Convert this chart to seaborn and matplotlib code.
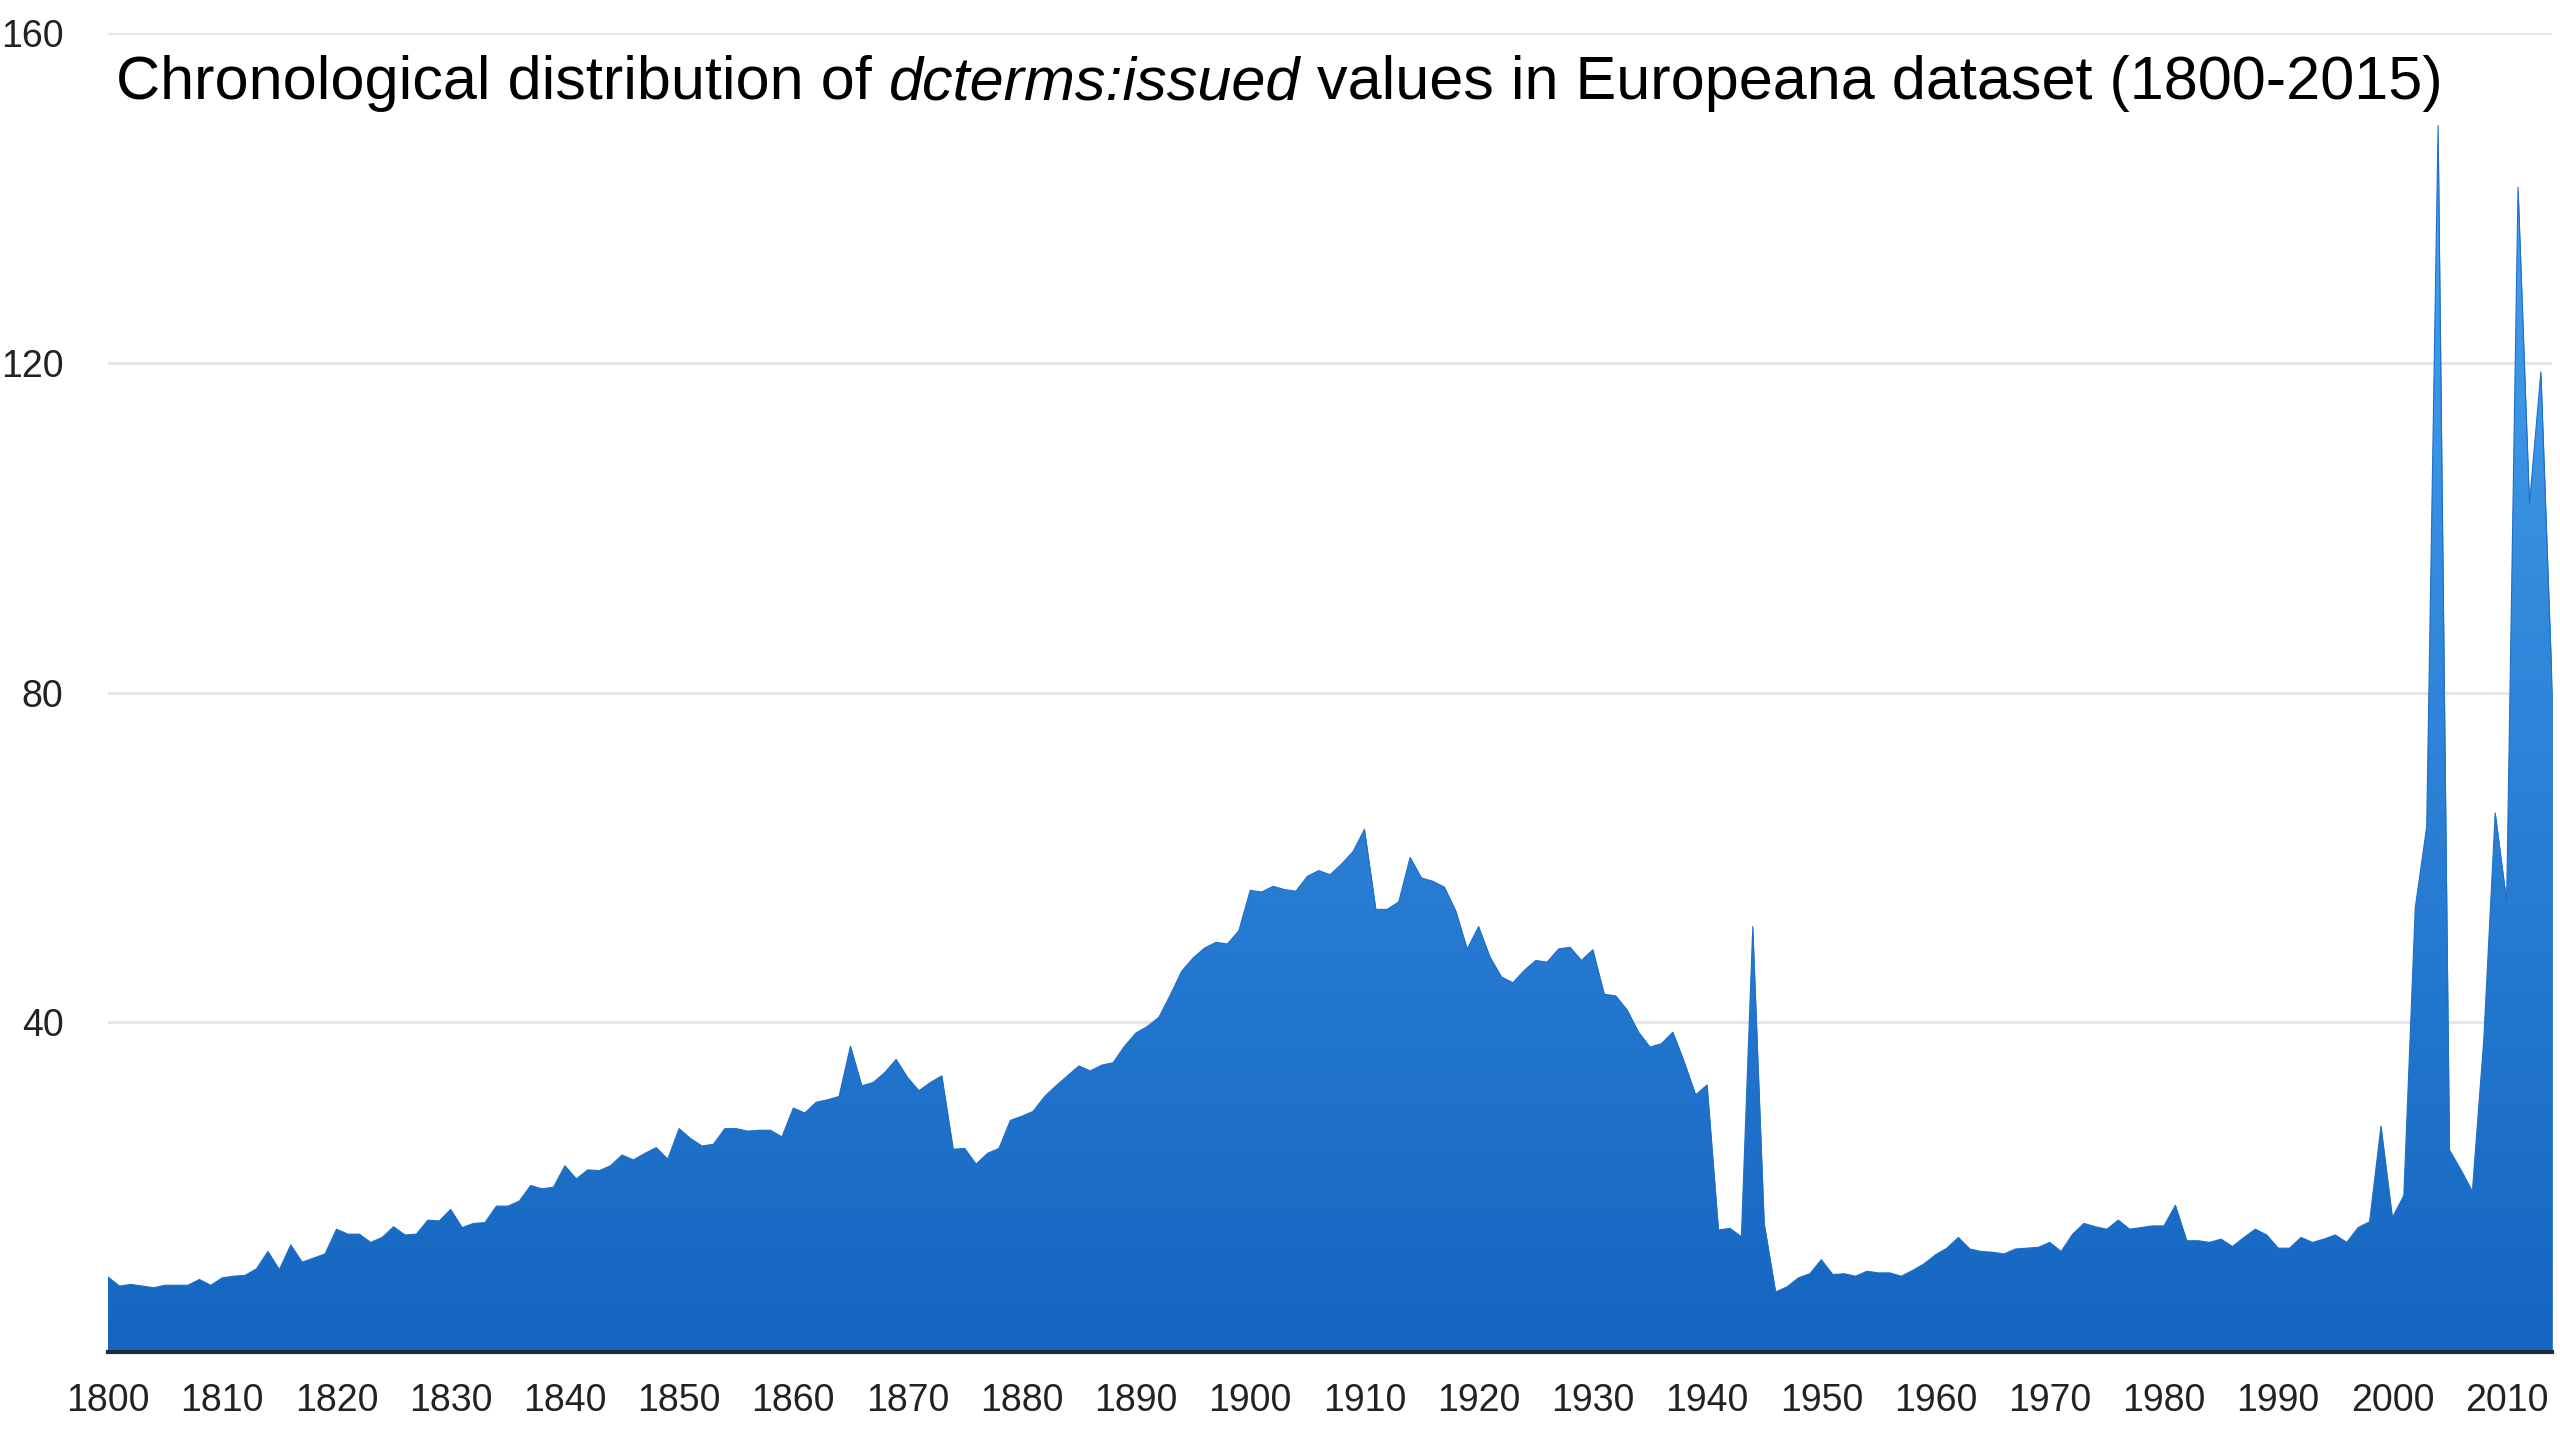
import numpy as np
import pandas as pd
import matplotlib
matplotlib.use("Agg")
import matplotlib.pyplot as plt
import seaborn as sns
from matplotlib.colors import LinearSegmentedColormap

sns.set_style("white")
plt.rcParams['font.family'] = ['Liberation Sans', 'DejaVu Sans']

# ---------------- DATA ----------------
years = list(range(1800, 2015))
counts = [
    9.1, 8.0, 8.2, 8.0, 7.8, 8.1, 8.1, 8.1, 8.8, 8.1,            # 1800s
    9.0, 9.2, 9.3, 10.1, 12.2, 10.0, 13.0, 10.9, 11.4, 11.9,     # 1810s
    14.9, 14.3, 14.3, 13.3, 13.9, 15.2, 14.2, 14.3, 16.0, 15.9,  # 1820s
    17.3, 15.1, 15.6, 15.7, 17.7, 17.7, 18.3, 20.2, 19.8, 20.0,  # 1830s
    22.6, 21.0, 22.1, 22.0, 22.6, 23.9, 23.3, 24.1, 24.8, 23.4,  # 1840s
    27.1, 25.9, 25.0, 25.2, 27.1, 27.1, 26.8, 26.9, 26.9, 26.1,  # 1850s
    29.6, 29.0, 30.3, 30.6, 31.0, 37.1, 32.3, 32.7, 33.9, 35.5,  # 1860s
    33.3, 31.7, 32.7, 33.5, 24.6, 24.7, 22.8, 24.1, 24.7, 28.1,  # 1870s
    28.6, 29.2, 31.0, 32.3, 33.5, 34.7, 34.1, 34.8, 35.1, 37.1,  # 1880s
    38.7, 39.5, 40.6, 43.3, 46.2, 47.8, 49.0, 49.7, 49.5, 51.1,  # 1890s
    56.0, 55.8, 56.5, 56.1, 55.9, 57.7, 58.4, 57.9, 59.2, 60.7,  # 1900s
    63.4, 53.7, 53.7, 54.6, 60.0, 57.5, 57.1, 56.4, 53.5, 48.9,  # 1910s
    51.6, 47.9, 45.5, 44.8, 46.3, 47.5, 47.3, 48.9, 49.1, 47.5,  # 1920s
    48.8, 43.4, 43.2, 41.5, 38.8, 37.0, 37.4, 38.8, 35.2, 31.2,  # 1930s
    32.4, 14.8, 15.0, 14.0, 51.6, 15.6, 7.3, 7.9, 9.0, 9.5,      # 1940s
    11.2, 9.4, 9.5, 9.2, 9.8, 9.6, 9.6, 9.2, 9.9, 10.7,          # 1950s
    11.8, 12.6, 13.9, 12.5, 12.2, 12.1, 11.9, 12.5, 12.6, 12.7,  # 1960s
    13.3, 12.2, 14.3, 15.6, 15.2, 14.9, 16.0, 14.9, 15.1, 15.3,  # 1970s
    15.3, 17.8, 13.5, 13.5, 13.3, 13.7, 12.8, 13.9, 14.9, 14.2,  # 1980s
    12.6, 12.6, 13.9, 13.3, 13.7, 14.2, 13.3, 15.1, 15.8, 27.4,  # 1990s
    16.3, 19.0, 53.9, 63.7, 148.8, 24.5, 22.1, 19.5, 37.9, 65.4, # 2000s
    54.7, 141.3, 102.9, 118.9, 80.0,                             # 2010s
]
yticks = [40, 80, 120, 160]
xticks = list(range(1800, 2011, 10))
title_parts = ["Chronological distribution of ", "dcterms:issued",
               " values in Europeana dataset (1800-2015)"]

df = pd.DataFrame({'year': years, 'count': counts})

# ---------------- PLOT ----------------
fig = plt.figure(figsize=(25.6, 14.4), dpi=100)
ax = fig.add_axes([0.0422, 0.0611, 0.9548, 0.9159])

sns.lineplot(data=df, x='year', y='count', ax=ax, color='#1f6fc8', lw=0.8, zorder=4)
fill = ax.fill_between(df['year'], df['count'], 0, color='#1565c0', lw=0, zorder=2)

# vertical gradient clipped to the area
cmap = LinearSegmentedColormap.from_list('blues_grad', ['#1565c0', '#4aa7f3'])
grad = np.linspace(0, 1, 256).reshape(-1, 1)
im = ax.imshow(grad, cmap=cmap, origin='lower', aspect='auto',
               extent=[years[0], years[-1], 0, 160], zorder=3)
im.set_clip_path(fill.get_paths()[0], transform=ax.transData)

ax.set_xlim(years[0], years[-1])
ax.set_ylim(0, 160)
ax.set_xticks(xticks)
ax.set_yticks(yticks)
ax.set_xlabel("")
ax.set_ylabel("")
ax.grid(axis='y', color='#e6e6e6', lw=2.2, zorder=0)
ax.set_axisbelow(True)
for s in ['top', 'right', 'left']:
    ax.spines[s].set_visible(False)
ax.spines['bottom'].set_color('#1e2b3a')
ax.spines['bottom'].set_linewidth(3)
ax.spines['bottom'].set_zorder(5)
ax.tick_params(axis='y', length=0, pad=32, labelsize=27, labelcolor='#222222')
ax.tick_params(axis='x', length=0, pad=22, labelsize=27, labelcolor='#222222')

# title with italic middle part
t1 = ax.text(0.0453, 0.942, title_parts[0], transform=fig.transFigure,
             fontsize=44, va='center', ha='left', color='black', zorder=6)
t2 = ax.annotate(title_parts[1], xy=(1, 0), xycoords=t1, va='bottom', ha='left',
                 fontsize=44, style='italic', color='black', zorder=6)
t3 = ax.annotate(title_parts[2], xy=(1, 0), xycoords=t2, va='bottom', ha='left',
                 fontsize=44, color='black', zorder=6)

fig.savefig("out.png", dpi=100)
